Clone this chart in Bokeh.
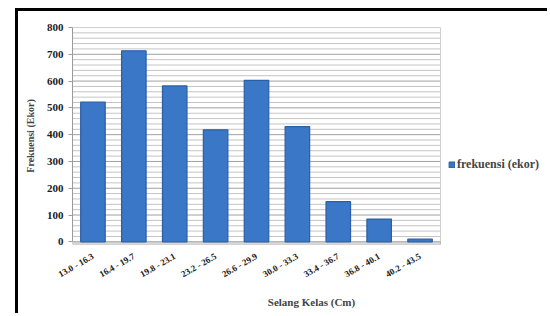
import numpy as np
from bokeh.plotting import figure
from bokeh.models import (ColumnDataSource, Range1d, FixedTicker, SingleIntervalTicker,
                          Legend, LegendItem)
from bokeh.embed import file_html
from bokeh.resources import INLINE

categories = ["13.0 - 16.3", "16.4 - 19.7", "19.8 - 23.1", "23.2 - 26.5", "26.6 - 29.9",
              "30.0 - 33.3", "33.4 - 36.7", "36.8 - 40.1", "40.2 - 43.5"]
frekuensi = [522, 713, 582, 418, 603, 430, 150, 85, 10]
series_name = "frekuensi (ekor)"
y_max = 800
y_step = 100
minor_step = 20

n = len(categories)
xs = np.arange(n)
src = ColumnDataSource(dict(x=xs, val=frekuensi))

FONT = "Liberation Serif"

# layout (canvas pixels)
W, H = 532, 305
LEFT, TOP, BOTTOM = 54, 16, 72
plot_w = 368                       # width of the chart wall in px
px_per_cat = plot_w / n
x_end = -0.5 + (W - LEFT) / px_per_cat

p = figure(width=W, height=H, output_backend="svg", toolbar_location=None,
           x_range=Range1d(-0.5, x_end), y_range=Range1d(-10, y_max),
           min_border_left=LEFT, min_border_right=0, min_border_top=TOP,
           min_border_bottom=BOTTOM)
p.outline_line_color = None
p.background_fill_color = "white"
p.styles = {"border-left": "3px solid black", "border-top": "3px solid black",
            "margin-left": "15px", "margin-top": "8px"}
p.xgrid.visible = False
p.ygrid.visible = False

# grid lines of the chart wall
minor_y = [v for v in range(0, y_max + 1, minor_step) if v % y_step]
major_y = list(range(0, y_max + 1, y_step))
p.segment(x0=-0.5, x1=n - 0.5, y0=minor_y, y1=minor_y, line_color="#C4C4C4", line_width=1)
p.segment(x0=-0.5, x1=n - 0.5, y0=major_y, y1=major_y, line_color="#A0A0A0", line_width=1)
p.segment(x0=[n - 0.5], x1=[n - 0.5], y0=[0], y1=[y_max], line_color="#D0D0D0", line_width=1)

# floor of the 3D chart
p.quad(left=[-0.5], right=[n - 0.5], bottom=[-10], top=[0], fill_color="#D8D8D8",
       line_color="#B0B0B0", line_width=1)

r = p.vbar(x="x", top="val", width=0.6, source=src, fill_color="#3A77C6",
           line_color="#2A5FA6", line_width=1.2)

# axes
p.yaxis.ticker = SingleIntervalTicker(interval=y_step, num_minor_ticks=0)
p.yaxis.bounds = (0, y_max)
p.yaxis.axis_line_color = "#9A9A9A"
p.yaxis.major_tick_line_color = "#9A9A9A"
p.yaxis.major_tick_out = 4
p.yaxis.major_tick_in = 0
p.yaxis.minor_tick_line_color = None
p.yaxis.major_label_text_font = FONT
p.yaxis.major_label_text_font_style = "bold"
p.yaxis.major_label_text_font_size = "11px"
p.yaxis.major_label_text_color = "#202020"
p.yaxis.axis_label = "Frekuensi (Ekor)"
p.yaxis.axis_label_text_font = FONT
p.yaxis.axis_label_text_font_style = "bold"
p.yaxis.axis_label_text_font_size = "10px"
p.yaxis.axis_label_standoff = 8

p.xaxis.ticker = FixedTicker(ticks=list(xs))
p.xaxis.bounds = (-0.5, n - 0.5)
p.xaxis.major_label_overrides = {int(i): c for i, c in zip(xs, categories)}
p.xaxis.axis_line_color = None
p.xaxis.major_tick_line_color = None
p.xaxis.minor_tick_line_color = None
p.xaxis.major_label_orientation = 0.52
p.xaxis.major_label_text_font = FONT
p.xaxis.major_label_text_font_style = "bold"
p.xaxis.major_label_text_font_size = "9px"
p.xaxis.major_label_text_color = "#202020"
p.xaxis.axis_label = "Selang Kelas (Cm)"
p.xaxis.axis_label_text_font = FONT
p.xaxis.axis_label_text_font_style = "bold"
p.xaxis.axis_label_text_font_size = "11px"
p.xaxis.axis_label_text_align = "right"
p.xaxis.axis_label_standoff = 9

legend = Legend(items=[LegendItem(label=series_name, renderers=[r])],
                location=(376, 72), border_line_color=None, background_fill_alpha=0,
                glyph_width=7, glyph_height=7, label_text_font=FONT,
                label_text_font_style="bold", label_text_font_size="12px",
                label_standoff=2, padding=0, margin=0)
p.add_layout(legend, "center")

open("out.html", "w").write(file_html(p, INLINE))
